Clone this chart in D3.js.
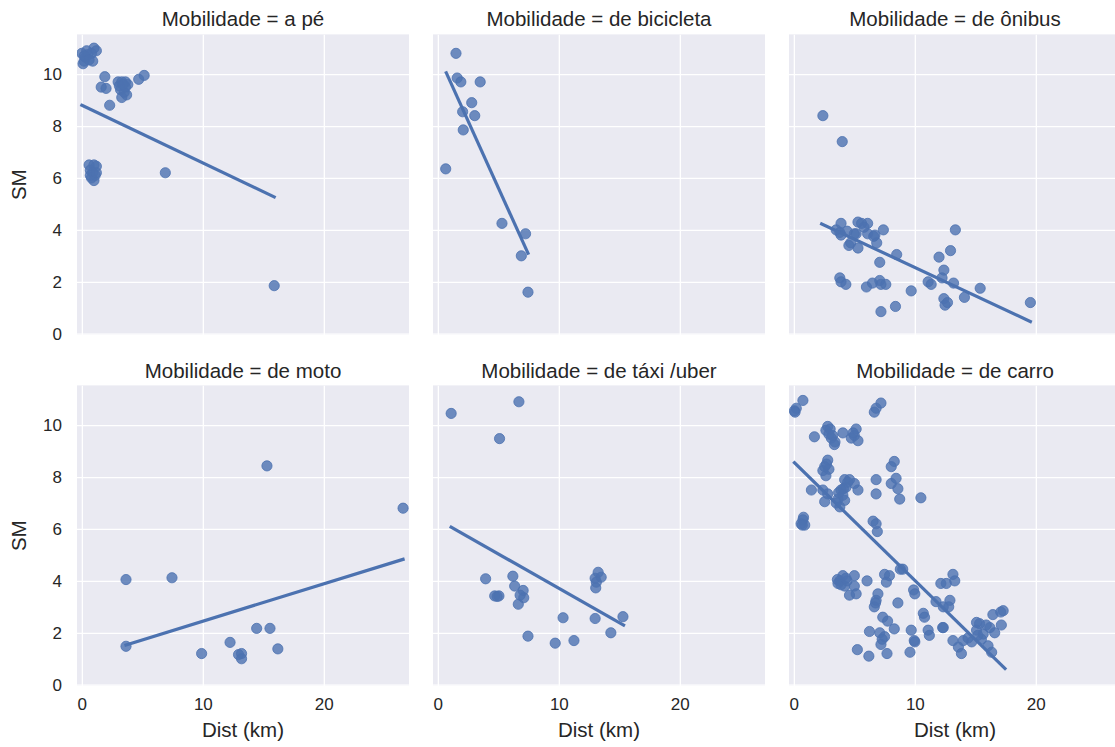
<!DOCTYPE html>
<html>
<head>
<meta charset="utf-8">
<script src="https://cdn.jsdelivr.net/npm/d3@7"></script>
<style>
  body { margin: 0; background: #fff; }
  svg text { font-family: "Liberation Sans", Arial, sans-serif; fill: #262626; }
  .tick text { font-size: 17px; }
  .title, .axis-label { font-size: 20.5px; }
</style>
</head>
<body>
<svg id="chart" width="1115" height="747"></svg>
<script>
// facet names (Mobilidade)
var facetNames = ["a pé", "de bicicleta", "de ônibus", "de moto", "de táxi /uber", "de carro"];
var xTicks = [0, 10, 20];
var yTicks = [0, 2, 4, 6, 8, 10];

// points: [Dist (km), SM]
var aPe = [[0.0,10.8],[0.1,10.4],[0.2,10.5],[0.3,10.65],[0.5,10.75],[0.8,10.8],[1.0,11.0],[1.2,10.9],[0.9,10.5],[0.4,10.9],
  [0.2,10.7],[0.6,10.55],
  [1.9,9.9],[1.6,9.5],[2.0,9.45],[2.3,8.8],
  [3.0,9.7],[3.3,9.7],[3.6,9.7],[3.8,9.6],[3.2,9.4],[3.5,9.3],[3.7,9.2],[3.3,9.1],[3.6,9.5],[3.1,9.55],[3.4,9.6],
  [4.7,9.8],[5.15,9.95],
  [0.6,6.5],[1.0,6.5],[1.2,6.45],[0.7,6.3],[0.9,6.2],[1.1,6.1],[0.8,6.0],[1.0,5.9],[0.7,6.1],[1.2,6.2],
  [6.9,6.2],[15.9,1.85]];
var bicicleta = [[1.5,10.8],[1.6,9.85],[1.9,9.7],[3.5,9.7],[2.8,8.9],[2.05,8.55],[3.05,8.4],[2.1,7.85],[0.65,6.35],
  [5.3,4.25],[7.25,3.85],[6.9,3.0],[7.45,1.6]];
var onibus = [[2.4,8.4],[4.0,7.4],[3.9,4.25],[3.8,3.9],[3.9,3.8],[3.5,4.0],[5.3,4.3],[5.6,4.25],[6.1,4.25],[5.15,3.85],
  [6.1,3.85],[6.7,3.8],[7.4,4.0],[4.7,3.5],[4.55,3.4],[5.3,3.3],[6.85,3.5],[8.5,3.05],[7.1,2.75],[3.8,2.15],
  [3.9,2.0],[4.3,1.9],[6.0,1.8],[6.5,1.95],[7.1,2.05],[7.2,1.9],[7.6,1.9],[7.2,0.85],[8.4,1.05],[9.7,1.65],
  [11.1,2.0],[11.35,1.9],[12.0,2.95],[12.95,3.2],[13.35,4.0],[12.4,2.45],[12.25,2.15],[13.2,1.95],[12.4,1.35],
  [12.5,1.1],[12.7,1.2],[14.1,1.4],[15.4,1.75],[19.55,1.2],[5.0,3.85],[6.6,3.75],[4.4,3.95],[5.8,4.1]];
var moto = [[3.65,4.05],[7.45,4.12],[15.3,8.43],[26.55,6.8],[3.65,1.48],[9.9,1.2],[12.25,1.63],[12.95,1.16],
  [13.2,1.2],[13.2,1.0],[14.45,2.17],[15.55,2.17],[16.2,1.38]];
var taxi = [[1.1,10.45],[6.7,10.9],[5.1,9.48],[3.95,4.08],[6.2,4.18],[6.35,3.8],[4.7,3.42],[5.05,3.42],[4.9,3.4],
  [7.05,3.63],[6.8,3.45],[7.1,3.35],[6.65,3.1],[7.45,1.87],[9.7,1.6],[11.25,1.7],[10.35,2.58],[13.0,2.55],
  [14.3,2.0],[15.3,2.62],[13.25,4.33],[13.0,4.1],[13.5,4.14],[13.05,3.73],[13.1,3.95]];
var carro = [[0.1,10.5],[0.2,10.65],[0.75,10.95],[0.05,10.55],
  [6.65,10.5],[6.8,10.65],[7.2,10.85],
  [1.7,9.55],[2.8,9.95],[2.65,9.8],[3.1,9.5],[3.35,9.25],[3.4,9.35],[2.9,9.65],[4.05,9.7],[4.75,9.5],[5.15,9.85],
  [5.0,9.6],[5.3,9.4],[3.0,9.85],[3.2,9.6],[4.9,9.7],
  [2.8,8.65],[2.55,8.4],[2.4,8.25],[2.65,8.05],[2.9,8.3],[8.3,8.6],[8.05,8.4],[2.7,8.5],
  [1.45,7.5],[2.4,7.5],[2.8,7.35],[2.55,7.05],[3.65,7.15],[3.8,6.85],[4.2,7.9],[4.6,7.9],[4.3,7.6],[5.0,7.75],
  [5.3,7.5],[4.05,7.3],[4.2,7.1],[3.5,7.0],[3.9,7.5],[4.45,7.8],[3.7,7.4],[4.1,7.55],
  [6.8,7.9],[6.8,7.35],[8.05,7.75],[8.45,7.95],[8.6,7.55],[8.75,7.15],[10.5,7.2],
  [0.75,6.35],[0.9,6.15],[0.6,6.2],[0.8,6.45],[0.7,6.15],[6.55,6.3],[6.8,6.2],[6.9,5.9],
  [9.0,4.45],[8.8,4.45],
  [3.8,4.0],[4.05,4.2],[3.65,3.9],[4.2,3.8],[5.0,4.2],[5.0,3.8],[4.6,3.45],[5.15,3.5],[6.05,4.0],[7.5,4.25],
  [7.65,3.95],[7.9,4.2],[3.6,4.05],[4.4,4.0],[3.9,3.85],[4.3,4.1],
  [8.6,3.15],[6.8,3.25],[6.95,3.5],[6.65,3.0],[7.35,2.6],[7.75,2.45],[8.3,2.15],[6.25,2.05],[7.1,2.0],[7.5,1.85],
  [7.2,1.55],[7.7,1.2],[5.25,1.35],[6.2,1.1],[9.6,1.25],[9.7,2.1],[9.95,1.7],[10.0,1.65],[6.75,3.15],[7.3,1.75],
  [9.9,3.65],[10.0,3.5],[10.8,2.6],[10.7,2.75],[11.1,2.1],[11.2,1.9],[12.15,3.9],[12.3,2.2],[11.75,3.2],
  [13.15,4.25],[13.3,4.0],[12.6,3.9],[12.9,3.25],[12.35,3.0],[12.8,3.0],[12.35,2.2],[13.15,1.7],[13.6,1.45],
  [13.85,1.2],[14.0,1.7],[14.7,1.65],[15.1,2.1],[15.35,2.35],[15.65,1.95],[15.5,1.75],[16.05,1.5],[16.35,1.25],
  [16.2,2.2],[16.45,2.7],[17.15,2.3],[17.3,2.85],[17.1,2.8],[16.6,2.0],[15.1,2.4],[15.9,2.3],[14.4,1.8],[15.2,1.9]];

// regression line ends: [x1, y1, x2, y2]
var fitLines = [[0.0,8.8,15.9,5.27], [0.7,10.05,7.45,3.1], [2.3,4.23,19.55,0.47],
  [3.65,1.53,26.55,4.83], [1.1,6.07,15.35,2.3], [0.05,8.55,17.45,0.62]];

var facetPoints = [aPe, bicicleta, onibus, moto, taxi, carro];

var svg = d3.select("#chart");
var pw = 332, ph = 300.6;
var lefts = [77, 433, 789], tops = [34.4, 385.4];
var blue = "#4C72B0";

var x = d3.scaleLinear().domain([-0.4, 27.04]).range([0, pw]);
var y = d3.scaleLinear().domain([-0.05, 11.53]).range([ph, 0]);

facetNames.forEach(function(name, i) {
  var col = i % 3, row = Math.floor(i / 3);
  var g = svg.append("g")
    .attr("transform", "translate(" + lefts[col] + "," + tops[row] + ")");

  g.append("clipPath").attr("id", "clip" + i)
    .append("rect").attr("width", pw).attr("height", ph);

  g.append("rect")
    .attr("width", pw)
    .attr("height", ph)
    .attr("fill", "#EAEAF2");

  var grid = g.append("g").attr("clip-path", "url(#clip" + i + ")");
  grid.append("g")
    .attr("class", "grid")
    .attr("transform", "translate(0," + ph + ")")
    .call(d3.axisBottom(x).tickValues(xTicks).tickSize(-ph).tickFormat(""));
  grid.append("g")
    .attr("class", "grid")
    .call(d3.axisLeft(y).tickValues(yTicks).tickSize(-pw).tickFormat(""));
  g.selectAll(".grid .domain").remove();
  g.selectAll(".grid line").attr("stroke", "#fff").attr("stroke-width", 1.3);

  var plot = g.append("g").attr("clip-path", "url(#clip" + i + ")");
  plot.selectAll("circle")
    .data(facetPoints[i])
    .enter()
      .append("circle")
      .attr("cx", function(d) { return x(d[0]); })
      .attr("cy", function(d) { return y(d[1]); })
      .attr("r", 5.1)
      .attr("fill", blue)
      .attr("fill-opacity", 0.8)
      .attr("stroke", blue)
      .attr("stroke-opacity", 0.8)
      .attr("stroke-width", 1);

  var f = fitLines[i];
  plot.append("line")
    .attr("x1", x(f[0])).attr("y1", y(f[1]))
    .attr("x2", x(f[2])).attr("y2", y(f[3]))
    .attr("stroke", blue)
    .attr("stroke-width", 3.2)
    .attr("stroke-linecap", "square");

  g.append("text")
    .attr("class", "title")
    .attr("x", pw / 2)
    .attr("y", (row == 0 ? 18 : 370.5) - tops[row])
    .attr("dominant-baseline", "central")
    .style("text-anchor", "middle")
    .text("Mobilidade = " + name);

  if (col == 0) {
    var ya = g.append("g")
      .attr("class", "axis")
      .call(d3.axisLeft(y).tickValues(yTicks).tickSize(0).tickPadding(15));
    ya.select(".domain").remove();
    g.append("text")
      .attr("class", "axis-label")
      .attr("transform", "rotate(-90)")
      .attr("x", -ph / 2)
      .attr("y", 18 - lefts[0])
      .attr("dominant-baseline", "central")
      .style("text-anchor", "middle")
      .text("SM");
  }
  if (row == 1) {
    var xa = g.append("g")
      .attr("class", "axis")
      .attr("transform", "translate(0," + ph + ")")
      .call(d3.axisBottom(x).tickValues(xTicks).tickSize(0).tickPadding(12));
    xa.select(".domain").remove();
    g.append("text")
      .attr("class", "axis-label")
      .attr("x", pw / 2)
      .attr("y", 729.5 - tops[1])
      .attr("dominant-baseline", "central")
      .style("text-anchor", "middle")
      .text("Dist (km)");
  }
});

svg.selectAll(".axis text").attr("fill", "#262626");
</script>
</body>
</html>
